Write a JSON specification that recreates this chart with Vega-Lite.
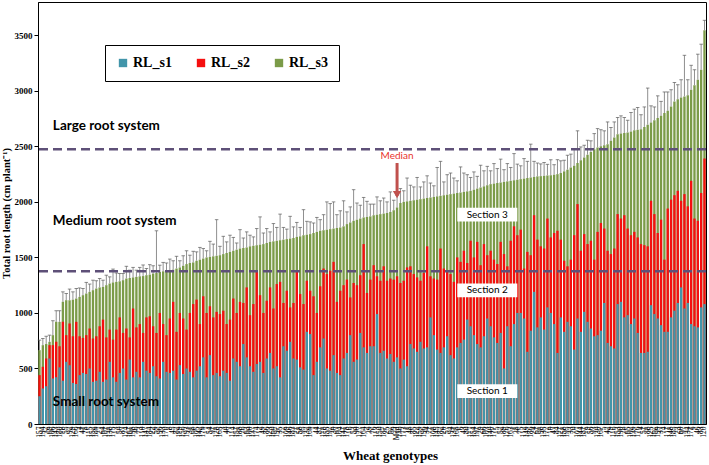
{
"$schema": "https://vega.github.io/schema/vega-lite/v6.json",
"width": 668, "height": 422,
"autosize": {"type": "none"},
"padding": {"left": 38, "top": 2, "right": 3, "bottom": 41},
"background": "white",
"config": {"view": {"stroke": "black", "strokeWidth": 1}, "axis": {"grid": false}},
"data": {"values": [
{"g":"157","c1":250,"c2":440,"c3":665,"hi":755},
{"g":"194","c1":320,"c2":515,"c3":710,"hi":770},
{"g":"32","c1":340,"c2":590,"c3":720,"hi":790},
{"g":"69","c1":590,"c2":710,"c3":740,"hi":800},
{"g":"106","c1":410,"c2":710,"c3":800,"hi":930},
{"g":"143","c1":420,"c2":740,"c3":920,"hi":1020},
{"g":"180","c1":510,"c2":700,"c3":920,"hi":1020},
{"g":"18","c1":390,"c2":920,"c3":1100,"hi":1190},
{"g":"55","c1":560,"c2":800,"c3":1115,"hi":1175},
{"g":"92","c1":530,"c2":905,"c3":1115,"hi":1215},
{"g":"129","c1":370,"c2":790,"c3":1120,"hi":1190},
{"g":"166","c1":360,"c2":920,"c3":1130,"hi":1220},
{"g":"4","c1":440,"c2":790,"c3":1145,"hi":1225},
{"g":"41","c1":460,"c2":775,"c3":1160,"hi":1220},
{"g":"78","c1":450,"c2":800,"c3":1175,"hi":1275},
{"g":"115","c1":500,"c2":860,"c3":1190,"hi":1260},
{"g":"152","c1":380,"c2":770,"c3":1205,"hi":1295},
{"g":"189","c1":390,"c2":790,"c3":1220,"hi":1290},
{"g":"27","c1":470,"c2":880,"c3":1230,"hi":1310},
{"g":"64","c1":380,"c2":940,"c3":1235,"hi":1295},
{"g":"101","c1":400,"c2":780,"c3":1250,"hi":1340},
{"g":"138","c1":560,"c2":850,"c3":1265,"hi":1325},
{"g":"175","c1":420,"c2":760,"c3":1275,"hi":1395},
{"g":"13","c1":380,"c2":850,"c3":1280,"hi":1360},
{"g":"50","c1":460,"c2":960,"c3":1285,"hi":1355},
{"g":"87","c1":500,"c2":820,"c3":1295,"hi":1355},
{"g":"124","c1":400,"c2":860,"c3":1310,"hi":1420},
{"g":"161","c1":580,"c2":780,"c3":1315,"hi":1385},
{"g":"198","c1":420,"c2":1040,"c3":1320,"hi":1410},
{"g":"36","c1":470,"c2":870,"c3":1325,"hi":1385},
{"g":"73","c1":420,"c2":900,"c3":1330,"hi":1410},
{"g":"110","c1":560,"c2":820,"c3":1332,"hi":1432},
{"g":"147","c1":480,"c2":960,"c3":1340,"hi":1400},
{"g":"184","c1":460,"c2":970,"c3":1345,"hi":1435},
{"g":"22","c1":520,"c2":880,"c3":1355,"hi":1425},
{"g":"59","c1":430,"c2":820,"c3":1360,"hi":1740},
{"g":"96","c1":410,"c2":1000,"c3":1370,"hi":1430},
{"g":"133","c1":560,"c2":900,"c3":1375,"hi":1455},
{"g":"170","c1":470,"c2":800,"c3":1380,"hi":1450},
{"g":"8","c1":460,"c2":950,"c3":1385,"hi":1485},
{"g":"45","c1":480,"c2":1100,"c3":1390,"hi":1470},
{"g":"82","c1":400,"c2":830,"c3":1400,"hi":1510},
{"g":"119","c1":530,"c2":1000,"c3":1410,"hi":1470},
{"g":"156","c1":450,"c2":950,"c3":1425,"hi":1515},
{"g":"193","c1":500,"c2":850,"c3":1440,"hi":1560},
{"g":"31","c1":470,"c2":1000,"c3":1450,"hi":1520},
{"g":"68","c1":420,"c2":1080,"c3":1455,"hi":1555},
{"g":"105","c1":480,"c2":1120,"c3":1470,"hi":1550},
{"g":"142","c1":520,"c2":900,"c3":1480,"hi":1590},
{"g":"179","c1":600,"c2":1150,"c3":1490,"hi":1580},
{"g":"17","c1":420,"c2":1000,"c3":1500,"hi":1560},
{"g":"54","c1":620,"c2":1060,"c3":1505,"hi":1645},
{"g":"91","c1":440,"c2":960,"c3":1510,"hi":1620},
{"g":"128","c1":460,"c2":1010,"c3":1515,"hi":1840},
{"g":"165","c1":430,"c2":990,"c3":1520,"hi":1600},
{"g":"3","c1":480,"c2":1020,"c3":1530,"hi":1690},
{"g":"40","c1":460,"c2":900,"c3":1540,"hi":1640},
{"g":"77","c1":390,"c2":940,"c3":1550,"hi":1700},
{"g":"114","c1":590,"c2":1130,"c3":1560,"hi":1680},
{"g":"151","c1":560,"c2":1000,"c3":1570,"hi":1630},
{"g":"188","c1":520,"c2":1100,"c3":1580,"hi":1750},
{"g":"26","c1":720,"c2":1090,"c3":1585,"hi":1675},
{"g":"63","c1":600,"c2":1230,"c3":1590,"hi":1730},
{"g":"100","c1":520,"c2":980,"c3":1600,"hi":1700},
{"g":"137","c1":470,"c2":1080,"c3":1605,"hi":1685},
{"g":"174","c1":540,"c2":1380,"c3":1610,"hi":1760},
{"g":"12","c1":560,"c2":1160,"c3":1615,"hi":1865},
{"g":"49","c1":460,"c2":1000,"c3":1620,"hi":1720},
{"g":"86","c1":590,"c2":1110,"c3":1630,"hi":1760},
{"g":"123","c1":640,"c2":1230,"c3":1640,"hi":1730},
{"g":"160","c1":500,"c2":1040,"c3":1645,"hi":1805},
{"g":"197","c1":520,"c2":1260,"c3":1650,"hi":1770},
{"g":"35","c1":420,"c2":1280,"c3":1655,"hi":1890},
{"g":"72","c1":700,"c2":1090,"c3":1660,"hi":1770},
{"g":"109","c1":660,"c2":1200,"c3":1665,"hi":1755},
{"g":"146","c1":740,"c2":1050,"c3":1670,"hi":1870},
{"g":"183","c1":590,"c2":1090,"c3":1675,"hi":1775},
{"g":"21","c1":580,"c2":1380,"c3":1685,"hi":1815},
{"g":"58","c1":510,"c2":1170,"c3":1690,"hi":1770},
{"g":"95","c1":490,"c2":1080,"c3":1700,"hi":1930},
{"g":"132","c1":830,"c2":1290,"c3":1705,"hi":1825},
{"g":"169","c1":810,"c2":1200,"c3":1710,"hi":1820},
{"g":"7","c1":440,"c2":1150,"c3":1720,"hi":1810},
{"g":"44","c1":560,"c2":1000,"c3":1730,"hi":1860},
{"g":"81","c1":690,"c2":1240,"c3":1740,"hi":1840},
{"g":"118","c1":770,"c2":1400,"c3":1745,"hi":1885},
{"g":"155","c1":500,"c2":1350,"c3":1750,"hi":2000},
{"g":"192","c1":480,"c2":1380,"c3":1755,"hi":1985},
{"g":"30","c1":620,"c2":1460,"c3":1760,"hi":2000},
{"g":"67","c1":460,"c2":1100,"c3":1765,"hi":1885},
{"g":"104","c1":440,"c2":1200,"c3":1770,"hi":1920},
{"g":"141","c1":590,"c2":1250,"c3":1780,"hi":2010},
{"g":"178","c1":640,"c2":1300,"c3":1800,"hi":1910},
{"g":"16","c1":800,"c2":1140,"c3":1815,"hi":1955},
{"g":"53","c1":560,"c2":1270,"c3":1830,"hi":2110},
{"g":"90","c1":580,"c2":1250,"c3":1840,"hi":1990},
{"g":"127","c1":820,"c2":1340,"c3":1850,"hi":1970},
{"g":"164","c1":690,"c2":1620,"c3":1860,"hi":2040},
{"g":"2","c1":640,"c2":1180,"c3":1865,"hi":2005},
{"g":"39","c1":700,"c2":1300,"c3":1870,"hi":1980},
{"g":"76","c1":700,"c2":1430,"c3":1880,"hi":1980},
{"g":"113","c1":990,"c2":1330,"c3":1885,"hi":2045},
{"g":"150","c1":640,"c2":1290,"c3":1890,"hi":2010},
{"g":"187","c1":660,"c2":1420,"c3":1895,"hi":2035},
{"g":"25","c1":590,"c2":1290,"c3":1900,"hi":2000},
{"g":"62","c1":630,"c2":1310,"c3":1910,"hi":2090},
{"g":"99","c1":560,"c2":1300,"c3":1925,"hi":2015},
{"g":"Med","c1":600,"c2":1330,"c3":1950,"hi":2060},
{"g":"136","c1":500,"c2":1270,"c3":1990,"hi":2120},
{"g":"173","c1":580,"c2":1290,"c3":2000,"hi":2100},
{"g":"11","c1":520,"c2":1410,"c3":2005,"hi":2215},
{"g":"48","c1":720,"c2":1420,"c3":2010,"hi":2150},
{"g":"85","c1":680,"c2":1350,"c3":2015,"hi":2135},
{"g":"122","c1":650,"c2":1320,"c3":2020,"hi":2220},
{"g":"159","c1":740,"c2":1290,"c3":2025,"hi":2135},
{"g":"196","c1":680,"c2":1360,"c3":2030,"hi":2180},
{"g":"34","c1":690,"c2":1600,"c3":2035,"hi":2235},
{"g":"71","c1":960,"c2":1330,"c3":2040,"hi":2170},
{"g":"108","c1":800,"c2":1310,"c3":2045,"hi":2145},
{"g":"145","c1":670,"c2":1300,"c3":2050,"hi":2310},
{"g":"182","c1":640,"c2":1580,"c3":2055,"hi":2365},
{"g":"20","c1":690,"c2":1400,"c3":2060,"hi":2180},
{"g":"57","c1":790,"c2":1380,"c3":2065,"hi":2245},
{"g":"94","c1":620,"c2":1350,"c3":2070,"hi":2260},
{"g":"131","c1":590,"c2":1280,"c3":2075,"hi":2215},
{"g":"168","c1":690,"c2":1500,"c3":2080,"hi":2190},
{"g":"6","c1":730,"c2":1460,"c3":2085,"hi":2315},
{"g":"43","c1":760,"c2":1560,"c3":2090,"hi":2260},
{"g":"80","c1":940,"c2":1450,"c3":2095,"hi":2245},
{"g":"117","c1":880,"c2":1650,"c3":2100,"hi":2220},
{"g":"154","c1":800,"c2":1500,"c3":2110,"hi":2270},
{"g":"191","c1":720,"c2":1640,"c3":2120,"hi":2230},
{"g":"29","c1":690,"c2":1430,"c3":2130,"hi":2330},
{"g":"66","c1":790,"c2":1620,"c3":2140,"hi":2280},
{"g":"103","c1":950,"c2":1520,"c3":2150,"hi":2320},
{"g":"140","c1":880,"c2":1560,"c3":2160,"hi":2280},
{"g":"177","c1":780,"c2":1480,"c3":2165,"hi":2345},
{"g":"15","c1":730,"c2":1440,"c3":2170,"hi":2300},
{"g":"52","c1":820,"c2":1640,"c3":2175,"hi":2385},
{"g":"89","c1":500,"c2":1530,"c3":2180,"hi":2290},
{"g":"126","c1":880,"c2":1420,"c3":2185,"hi":2345},
{"g":"163","c1":700,"c2":1650,"c3":2190,"hi":2310},
{"g":"1","c1":900,"c2":1780,"c3":2195,"hi":2435},
{"g":"38","c1":1000,"c2":1700,"c3":2200,"hi":2340},
{"g":"75","c1":1000,"c2":1750,"c3":2205,"hi":2325},
{"g":"112","c1":950,"c2":1400,"c3":2210,"hi":2390},
{"g":"149","c1":650,"c2":1550,"c3":2215,"hi":2365},
{"g":"186","c1":840,"c2":1520,"c3":2220,"hi":2520},
{"g":"24","c1":1190,"c2":1880,"c3":2225,"hi":2365},
{"g":"61","c1":870,"c2":1660,"c3":2230,"hi":2350},
{"g":"98","c1":960,"c2":1600,"c3":2232,"hi":2342},
{"g":"135","c1":850,"c2":1580,"c3":2235,"hi":2355},
{"g":"172","c1":1050,"c2":1850,"c3":2238,"hi":2338},
{"g":"10","c1":1000,"c2":1680,"c3":2240,"hi":2380},
{"g":"47","c1":900,"c2":1720,"c3":2245,"hi":2335},
{"g":"84","c1":640,"c2":1740,"c3":2250,"hi":2380},
{"g":"121","c1":960,"c2":1660,"c3":2260,"hi":2370},
{"g":"158","c1":830,"c2":1470,"c3":2275,"hi":2375},
{"g":"195","c1":920,"c2":1420,"c3":2290,"hi":2420},
{"g":"33","c1":880,"c2":1480,"c3":2310,"hi":2430},
{"g":"70","c1":670,"c2":1700,"c3":2325,"hi":2475},
{"g":"107","c1":950,"c2":1980,"c3":2350,"hi":2640},
{"g":"144","c1":830,"c2":1560,"c3":2375,"hi":2495},
{"g":"181","c1":1010,"c2":1710,"c3":2400,"hi":2510},
{"g":"19","c1":920,"c2":1620,"c3":2425,"hi":2555},
{"g":"56","c1":860,"c2":1650,"c3":2450,"hi":2550},
{"g":"93","c1":790,"c2":1480,"c3":2475,"hi":2615},
{"g":"130","c1":800,"c2":1730,"c3":2490,"hi":2660},
{"g":"167","c1":840,"c2":1810,"c3":2500,"hi":2650},
{"g":"5","c1":1090,"c2":1760,"c3":2510,"hi":2640},
{"g":"42","c1":730,"c2":1560,"c3":2520,"hi":2720},
{"g":"79","c1":700,"c2":1530,"c3":2550,"hi":2670},
{"g":"116","c1":680,"c2":1580,"c3":2580,"hi":2720},
{"g":"153","c1":1080,"c2":1890,"c3":2610,"hi":2760},
{"g":"190","c1":1100,"c2":1850,"c3":2615,"hi":2775},
{"g":"28","c1":960,"c2":1880,"c3":2620,"hi":2760},
{"g":"65","c1":980,"c2":1760,"c3":2625,"hi":2735},
{"g":"102","c1":900,"c2":1700,"c3":2635,"hi":2805},
{"g":"139","c1":950,"c2":1730,"c3":2645,"hi":2835},
{"g":"176","c1":820,"c2":1680,"c3":2650,"hi":2850},
{"g":"14","c1":640,"c2":1620,"c3":2655,"hi":2785},
{"g":"51","c1":640,"c2":1610,"c3":2675,"hi":2855},
{"g":"88","c1":650,"c2":1600,"c3":2695,"hi":3025},
{"g":"125","c1":1070,"c2":2010,"c3":2715,"hi":2865},
{"g":"162","c1":990,"c2":1890,"c3":2735,"hi":2855},
{"g":"199","c1":950,"c2":1720,"c3":2755,"hi":2955},
{"g":"37","c1":890,"c2":1840,"c3":2775,"hi":2905},
{"g":"74","c1":830,"c2":1480,"c3":2800,"hi":2990},
{"g":"111","c1":830,"c2":1940,"c3":2820,"hi":2990},
{"g":"148","c1":960,"c2":2020,"c3":2860,"hi":3010},
{"g":"185","c1":1020,"c2":2060,"c3":2905,"hi":3075},
{"g":"23","c1":1090,"c2":2100,"c3":2925,"hi":3055},
{"g":"60","c1":1230,"c2":2010,"c3":2940,"hi":3100},
{"g":"97","c1":1040,"c2":2070,"c3":2950,"hi":3320},
{"g":"134","c1":1090,"c2":1960,"c3":2960,"hi":3100},
{"g":"171","c1":900,"c2":2190,"c3":3010,"hi":3230},
{"g":"9","c1":880,"c2":1850,"c3":3050,"hi":3190},
{"g":"46","c1":870,"c2":1830,"c3":3100,"hi":3330},
{"g":"83","c1":1050,"c2":2080,"c3":3190,"hi":3420},
{"g":"120","c1":1080,"c2":2390,"c3":3545,"hi":3635}
]},
"layer": [
{"mark": {"type": "bar"},
 "encoding": {
  "x": {"field": "g", "type": "nominal", "sort": null,
        "scale": {"paddingInner": 0.3, "paddingOuter": 0.1},
        "axis": {"title": "Wheat genotypes", "titleFont": "Liberation Serif", "titleFontSize": 13, "titleFontWeight": "bold", "titleColor": "black", "titleX": 352, "titleY": 31, "titleBaseline": "middle",
                 "labelFont": "Liberation Serif", "labelFontSize": 7.5, "labelAngle": -90, "labelColor": "black", "labelOverlap": false, "labelLimit": 40, "ticks": false, "domainColor": "black", "labelPadding": 2}},
  "y": {"field": "c3", "type": "quantitative", "scale": {"domain": [0, 3800], "nice": false},
        "axis": {"title": "Total root length (cm plant⁻¹)", "titleFont": "Liberation Serif", "titleFontSize": 10.5, "titleFontWeight": "bold", "titleColor": "black", "titlePadding": 3,
                 "labelFont": "Liberation Serif", "labelFontWeight": "bold", "labelFontSize": 9, "labelColor": "black", "format": "d", "values": [0,500,1000,1500,2000,2500,3000,3500],
                 "tickSize": 4, "tickColor": "black", "domainColor": "black", "labelPadding": 2}},
  "color": {"datum": "RL_s3", "type": "nominal",
            "scale": {"domain": ["RL_s1", "RL_s2", "RL_s3"], "range": ["#4295AA", "#F50F0F", "#7B9B48"]},
            "legend": {"orient": "none", "legendX": 67, "legendY": 43, "direction": "horizontal", "title": null,
                       "strokeColor": "black", "fillColor": "white", "padding": 11,
                       "symbolType": "square", "symbolSize": 70, "symbolStrokeWidth": 0,
                       "labelFont": "Liberation Serif", "labelFontWeight": "bold", "labelFontSize": 14, "labelColor": "black",
                       "columnPadding": 22, "labelOffset": 3}}
 }},
{"mark": {"type": "bar"},
 "encoding": {"x": {"field": "g", "type": "nominal", "sort": null}, "y": {"field": "c2", "type": "quantitative"}, "color": {"datum": "RL_s2", "type": "nominal"}}},
{"mark": {"type": "bar"},
 "encoding": {"x": {"field": "g", "type": "nominal", "sort": null}, "y": {"field": "c1", "type": "quantitative"}, "color": {"datum": "RL_s1", "type": "nominal"}}},
{"mark": {"type": "rule", "color": "#8f8f8f", "strokeWidth": 1},
 "encoding": {"x": {"field": "g", "type": "nominal", "sort": null}, "y": {"field": "c3", "type": "quantitative"}, "y2": {"field": "hi"}}},
{"mark": {"type": "tick", "color": "#5a5a5a", "thickness": 1, "size": 3.5},
 "encoding": {"x": {"field": "g", "type": "nominal", "sort": null}, "y": {"field": "hi", "type": "quantitative"}}},
{"data": {"values": [{"v": 2475}, {"v": 1375}]},
 "mark": {"type": "rule", "color": "#5E5078", "strokeWidth": 2.5, "strokeDash": [9, 5]},
 "encoding": {"y": {"field": "v", "type": "quantitative"}}},
{"data": {"values": [{"g": "106", "v": 2684, "t": "Large root system"}, {"g": "106", "v": 1831, "t": "Medium root system"}, {"g": "106", "v": 197, "t": "Small root system"}]},
 "mark": {"type": "text", "align": "left", "baseline": "middle", "font": "Lato", "fontWeight": "bold", "fontSize": 13.5, "color": "black"},
 "encoding": {"x": {"field": "g", "type": "nominal", "sort": null}, "y": {"field": "v", "type": "quantitative"}, "text": {"field": "t"}}},
{"data": {"values": [{"g": "103", "v": 1885, "t": "Section 3"}, {"g": "103", "v": 1203, "t": "Section 2"}, {"g": "103", "v": 296, "t": "Section 1"}]},
 "layer": [
  {"mark": {"type": "point", "shape": "M-1,-0.23L1,-0.23L1,0.23L-1,0.23Z", "size": 3600, "filled": true, "fill": "white", "opacity": 1, "strokeWidth": 0},
   "encoding": {"x": {"field": "g", "type": "nominal", "sort": null}, "y": {"field": "v", "type": "quantitative"}}},
  {"mark": {"type": "text", "align": "center", "baseline": "middle", "font": "Lato", "fontSize": 10, "color": "black"},
   "encoding": {"x": {"field": "g", "type": "nominal", "sort": null}, "y": {"field": "v", "type": "quantitative"}, "text": {"field": "t"}}}
 ]},
{"data": {"values": [{"g": "Med", "v": 2415, "a": 2350, "b": 2095, "tip": 2065, "t": "Median"}]},
 "layer": [
  {"mark": {"type": "text", "align": "center", "baseline": "middle", "font": "Lato", "fontSize": 10, "color": "#E8332A"},
   "encoding": {"x": {"field": "g", "type": "nominal", "sort": null}, "y": {"field": "v", "type": "quantitative"}, "text": {"field": "t"}}},
  {"mark": {"type": "rule", "color": "#C0504D", "strokeWidth": 3},
   "encoding": {"x": {"field": "g", "type": "nominal", "sort": null}, "y": {"field": "a", "type": "quantitative"}, "y2": {"field": "b"}}},
  {"mark": {"type": "point", "shape": "triangle-down", "size": 70, "filled": true, "color": "#C0504D", "opacity": 1},
   "encoding": {"x": {"field": "g", "type": "nominal", "sort": null}, "y": {"field": "tip", "type": "quantitative"}}}
 ]}
]
}
